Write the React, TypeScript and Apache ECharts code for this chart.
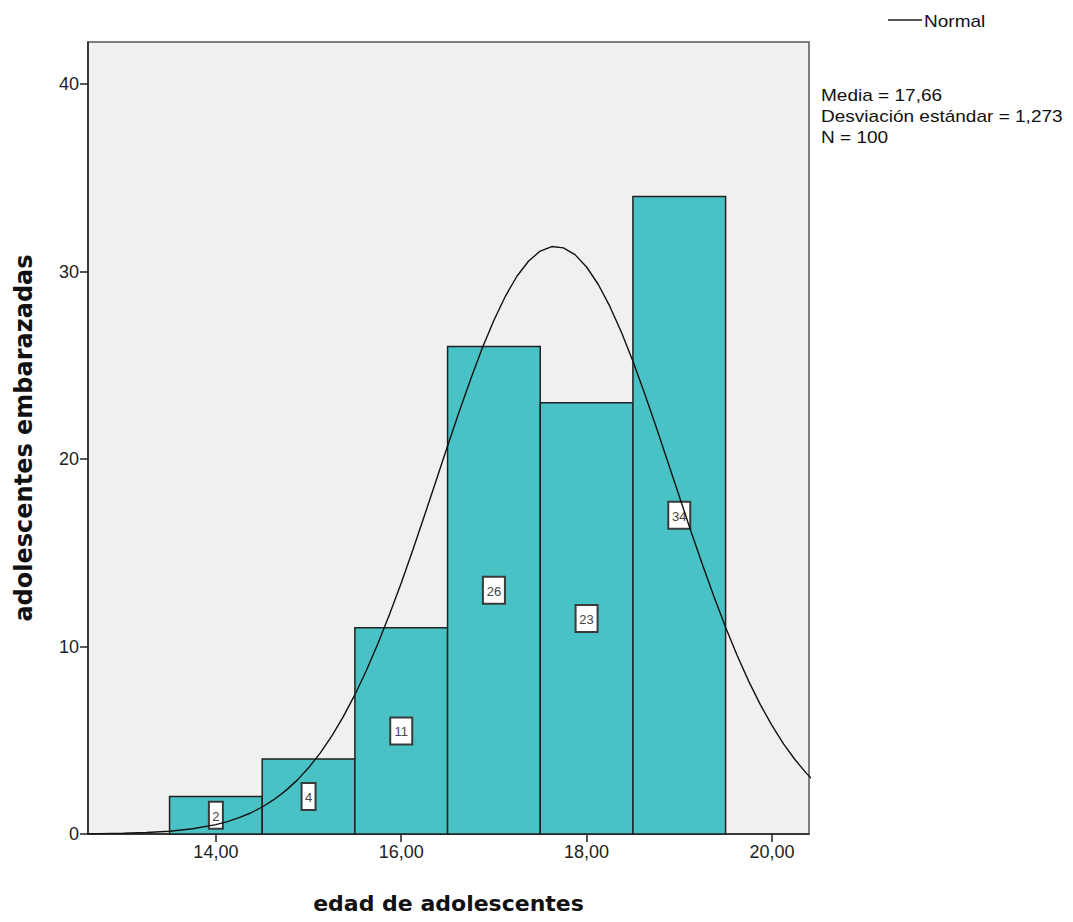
import React, { useEffect, useRef } from "react";
import * as echarts from "echarts";

const binStarts = [13.5, 14.5, 15.5, 16.5, 17.5, 18.5];
const binEnds = [14.5, 15.5, 16.5, 17.5, 18.5, 19.5];
const counts = [2, 4, 11, 26, 23, 34];

const curveX = [
  12.5, 12.75, 13, 13.25, 13.5, 13.75, 14, 14.125, 14.25, 14.375, 14.5, 14.625, 14.75, 14.875,
  15, 15.125, 15.25, 15.375, 15.5, 15.625, 15.75, 15.875, 16, 16.125, 16.25, 16.375, 16.5, 16.625,
  16.75, 16.875, 17, 17.125, 17.25, 17.375, 17.5, 17.625, 17.75, 17.875, 18, 18.125, 18.25, 18.375,
  18.5, 18.625, 18.75, 18.875, 19, 19.125, 19.25, 19.375, 19.5, 19.625, 19.75, 19.875, 20, 20.125,
  20.25, 20.375, 20.5,
];
const curveY = [
  0.01, 0.02, 0.04, 0.08, 0.15, 0.28, 0.5, 0.66, 0.87, 1.12, 1.44, 1.83, 2.3, 2.86,
  3.53, 4.31, 5.22, 6.26, 7.43, 8.73, 10.17, 11.73, 13.39, 15.15, 16.97, 18.83, 20.69, 22.52,
  24.27, 25.92, 27.4, 28.69, 29.76, 30.56, 31.09, 31.33, 31.26, 30.9, 30.24, 29.32, 28.15, 26.77,
  25.21, 23.51, 21.72, 19.87, 18.01, 16.16, 14.37, 12.65, 11.03, 9.52, 8.14, 6.9, 5.79, 4.81,
  3.96, 3.22, 2.6,
];

const xTicks = [14, 16, 18, 20];
const yTicks = [0, 10, 20, 30, 40];
const statsLines = ["Media = 17,66", "Desviación estándar = 1,273", "N = 100"];

const FONT = "'Liberation Sans', Arial, sans-serif";
const TITLE_FONT = "'DejaVu Sans', sans-serif";

export default function App() {
  const ref = useRef<HTMLDivElement>(null);
  useEffect(() => {
    if (!ref.current) return;
    const chart = echarts.init(ref.current, undefined, { renderer: "svg" });
    const barData = binStarts.map((s, i) => [s, binEnds[i], counts[i]]);
    chart.setOption({
      animation: false,
      textStyle: { fontFamily: FONT },
      grid: {
        left: 88,
        top: 42,
        right: 264,
        bottom: 88,
        show: true,
        backgroundColor: "#f0f0f0",
        borderColor: "#555",
        borderWidth: 1.5,
      },
      xAxis: {
        type: "value",
        min: 12.62,
        max: 20.4,
        splitLine: { show: false },
        axisLine: { onZero: false, lineStyle: { color: "#222", width: 1.5 } },
        axisTick: { show: true, customValues: xTicks, length: 8, lineStyle: { color: "#222", width: 1.5 } },
        axisLabel: {
          customValues: xTicks,
          formatter: (v: number) => v.toFixed(2).replace(".", ","),
          color: "#222",
          fontSize: 18,
          fontFamily: FONT,
          margin: 9,
        },
        name: "edad de adolescentes",
        nameLocation: "middle",
        nameGap: 58,
        nameTextStyle: { fontSize: 22, fontWeight: "bold", color: "#111", fontFamily: TITLE_FONT },
      },
      yAxis: {
        type: "value",
        min: 0,
        max: 42.24,
        splitLine: { show: false },
        axisLine: { show: true, lineStyle: { color: "#222", width: 1.5 } },
        axisTick: { show: true, customValues: yTicks, length: 8, lineStyle: { color: "#222", width: 1.5 } },
        axisLabel: {
          customValues: yTicks,
          color: "#222",
          fontSize: 18,
          fontFamily: FONT,
          margin: 9,
        },
        name: "adolescentes embarazadas",
        nameLocation: "middle",
        nameGap: 52,
        nameTextStyle: { fontSize: 24, fontWeight: "bold", color: "#111", fontFamily: TITLE_FONT },
      },
      series: [
        {
          type: "custom",
          data: barData,
          encode: { x: [0, 1], y: 2 },
          z: 2,
          renderItem: (params: any, api: any) => {
            const x0 = api.value(0);
            const x1 = api.value(1);
            const h = api.value(2);
            const p0 = api.coord([x0, h]);
            const p1 = api.coord([x1, 0]);
            const mid = api.coord([(x0 + x1) / 2, h / 2]);
            const label = String(h);
            const bw = label.length > 1 ? 22 : 14;
            const bh = 27;
            return {
              type: "group",
              children: [
                {
                  type: "rect",
                  shape: { x: p0[0], y: p0[1], width: p1[0] - p0[0], height: p1[1] - p0[1] },
                  style: { fill: "#48c2c5", stroke: "#222", lineWidth: 1.5 },
                },
                {
                  type: "rect",
                  z2: 10,
                  shape: { x: mid[0] - bw / 2, y: mid[1] - bh / 2, width: bw, height: bh },
                  style: { fill: "#ffffff", stroke: "#3a3a3a", lineWidth: 2 },
                },
                {
                  type: "text",
                  z2: 11,
                  style: {
                    x: mid[0],
                    y: mid[1] + 1,
                    text: label,
                    align: "center",
                    verticalAlign: "middle",
                    fontSize: 13,
                    fontFamily: FONT,
                    fill: "#444",
                  },
                },
              ],
            };
          },
        },
        {
          type: "line",
          name: "Normal",
          data: curveX.map((x, i) => [x, curveY[i]]),
          smooth: false,
          showSymbol: false,
          symbol: "none",
          clip: true,
          z: 3,
          lineStyle: { color: "#111", width: 1.4 },
        },
      ],
      graphic: [
        {
          type: "line",
          shape: { x1: 888, y1: 20, x2: 922, y2: 20 },
          style: { stroke: "#222", lineWidth: 1.5 },
        },
        {
          type: "text",
          x: 924,
          y: 21,
          scaleX: 1.12,
          style: { text: "Normal", fontSize: 17, fontFamily: FONT, fill: "#111", verticalAlign: "middle" },
        },
        {
          type: "text",
          x: 821,
          y: 85,
          scaleX: 1.12,
          style: { text: statsLines.join("\n"), fontSize: 17, lineHeight: 21, fontFamily: FONT, fill: "#111" },
        },
      ],
    });
    return () => chart.dispose();
  }, []);
  return <div ref={ref} style={{ width: 1073, height: 922, margin: -8 }} />;
}
